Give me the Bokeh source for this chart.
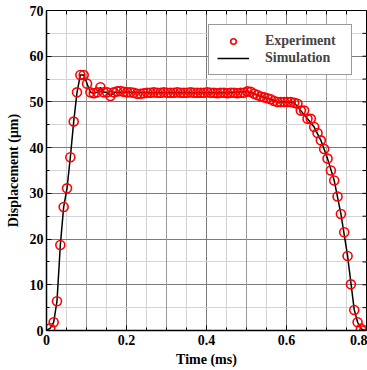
from bokeh.plotting import figure
from bokeh.models import FixedTicker, Grid, Legend, LegendItem, Range1d
from bokeh.embed import file_html
from bokeh.resources import INLINE

# ---- data ----
exp_time = [0.0095, 0.0179, 0.0262, 0.0346, 0.0429, 0.0513, 0.0596, 0.0680, 0.0763, 0.0847,
            0.0930, 0.1014, 0.1097, 0.1181, 0.1264, 0.1348, 0.1431, 0.1515, 0.1598, 0.1682,
            0.1765, 0.1849, 0.1932, 0.2016, 0.2099, 0.2183, 0.2266, 0.2350, 0.2433, 0.2517,
            0.2600, 0.2684, 0.2767, 0.2851, 0.2934, 0.3018, 0.3101, 0.3185, 0.3268, 0.3352,
            0.3435, 0.3519, 0.3602, 0.3686, 0.3769, 0.3853, 0.3936, 0.4020, 0.4103, 0.4187,
            0.4270, 0.4354, 0.4437, 0.4521, 0.4604, 0.4688, 0.4771, 0.4855, 0.4938, 0.5022,
            0.5105, 0.5189, 0.5272, 0.5356, 0.5439, 0.5523, 0.5606, 0.5690, 0.5773, 0.5857,
            0.5940, 0.6024, 0.6107, 0.6191, 0.6274, 0.6358, 0.6441, 0.6525, 0.6608, 0.6692,
            0.6775, 0.6859, 0.6942, 0.7026, 0.7109, 0.7193, 0.7276, 0.7360, 0.7443, 0.7527,
            0.7610, 0.7694, 0.7777, 0.7861, 0.7944]
exp_disp = [0.5, 1.8, 6.4, 18.7, 27.0, 31.1, 37.9, 45.7, 52.1, 55.9,
            55.9, 54.0, 52.1, 51.9, 52.1, 53.2, 52.1, 52.1, 51.3, 52.1,
            52.3, 52.4, 52.2, 52.1, 52.1, 52.0, 51.8, 51.8, 51.9, 52.0,
            52.0, 52.1, 52.0, 52.0, 52.1, 52.0, 52.0, 52.0, 52.1, 52.0,
            52.0, 52.0, 52.1, 52.0, 52.0, 52.0, 52.0, 52.1, 52.0, 52.0,
            51.9, 52.0, 52.0, 51.9, 52.0, 52.0, 51.9, 52.0, 52.0, 52.3,
            52.2, 51.8, 51.5, 51.2, 51.0, 50.8, 50.6, 50.2, 50.0, 50.0,
            50.0, 50.0, 50.0, 49.8, 49.6, 48.1, 48.1, 46.3, 46.3, 44.5,
            43.2, 41.6, 39.7, 37.6, 35.0, 32.8, 29.3, 25.5, 21.5, 16.3,
            10.1, 4.5, 1.8, 0.4, 0.0]

sim_time = [0.0, 0.0095, 0.0179, 0.0262, 0.0346, 0.0429, 0.0513, 0.0596, 0.0680, 0.0763,
            0.0847, 0.0930, 0.1014, 0.1097, 0.1181, 0.1264, 0.1348, 0.1431, 0.1515, 0.1598,
            0.1682, 0.20, 0.25, 0.30, 0.35, 0.40, 0.45, 0.5022, 0.5189, 0.5356, 0.5523,
            0.5773, 0.6024, 0.6191, 0.6358, 0.6525, 0.6692, 0.6859, 0.7026, 0.7193, 0.7360,
            0.7527, 0.7694, 0.7777, 0.7861, 0.7944, 0.80]
sim_disp = [0.0, 0.5, 1.8, 6.4, 18.7, 27.0, 31.1, 37.9, 45.7, 52.1,
            55.9, 55.9, 54.0, 52.1, 51.9, 52.1, 53.2, 52.1, 52.1, 51.3,
            52.1, 52.1, 52.0, 52.0, 52.0, 52.0, 52.0, 52.3, 51.8, 51.2,
            50.8, 50.0, 50.0, 49.8, 48.1, 46.3, 44.5, 41.6, 37.6, 32.8,
            25.5, 16.3, 4.5, 1.8, 0.4, 0.0, 0.0]

x_ticks = [0.0, 0.2, 0.4, 0.6, 0.8]
x_mid_ticks = [0.1, 0.3, 0.5, 0.7]
x_minor = [0.05, 0.1, 0.15, 0.25, 0.3, 0.35, 0.45, 0.5, 0.55, 0.65, 0.7, 0.75]
y_ticks = [0, 10, 20, 30, 40, 50, 60, 70]
y_minor = [5, 15, 25, 35, 45, 55, 65]

FONT = "Liberation Serif"
X0, X1, Y0, Y1 = 0.0, 0.8, 0.0, 70.0
FRAME_W, FRAME_H = 320, 320

p = figure(width=367, height=370, x_range=Range1d(X0, X1), y_range=Range1d(Y0, Y1),
           output_backend="svg", toolbar_location=None,
           min_border_left=46, min_border_right=1, min_border_top=10, min_border_bottom=40)
p.background_fill_color = "white"
p.outline_line_color = "black"
p.outline_line_width = 1

# grids
p.xgrid.ticker = FixedTicker(ticks=x_ticks, minor_ticks=x_minor)
p.ygrid.ticker = FixedTicker(ticks=y_ticks, minor_ticks=y_minor)
p.xgrid.grid_line_color = "#7a7a7a"
p.ygrid.grid_line_color = "#7a7a7a"
p.xgrid.minor_grid_line_color = "#d4d4d4"
p.ygrid.minor_grid_line_color = "#d4d4d4"
p.add_layout(Grid(dimension=0, ticker=FixedTicker(ticks=x_mid_ticks), grid_line_color="#9a9a9a"))

for ax in (p.xaxis[0], p.yaxis[0]):
    ax.axis_line_color = "black"
    ax.axis_line_width = 1.5
    ax.major_tick_in = 5
    ax.major_tick_out = 0
    ax.minor_tick_in = 3
    ax.minor_tick_out = 0
    ax.major_tick_line_color = "black"
    ax.minor_tick_line_color = "black"
    ax.major_label_text_font = FONT
    ax.major_label_text_font_style = "bold"
    ax.major_label_text_font_size = "14px"
    ax.major_label_text_color = "black"
    ax.axis_label_text_font = FONT
    ax.axis_label_text_font_style = "bold"
    ax.axis_label_text_font_size = "14px"
    ax.axis_label_text_color = "black"

p.xaxis.ticker = FixedTicker(ticks=x_ticks, minor_ticks=x_minor)
p.yaxis.ticker = FixedTicker(ticks=y_ticks, minor_ticks=y_minor)
p.xaxis.axis_label = "Time (ms)"
p.yaxis.axis_label = "Displacement (μm)"
p.xaxis.major_label_standoff = 4
p.xaxis.axis_label_standoff = 4
p.yaxis.major_label_standoff = 3
p.yaxis.axis_label_standoff = 6

# inward ticks on the top and right edges (mirror of the bottom/left ticks)
tick_px = 4
dx = (X1 - X0) * tick_px / FRAME_W
dy = (Y1 - Y0) * tick_px / FRAME_H
top_x = sorted(x_ticks + x_minor)
right_y = sorted(y_ticks + y_minor)
p.segment(x0=top_x, y0=[Y1] * len(top_x), x1=top_x, y1=[Y1 - dy] * len(top_x),
          line_color="black", line_width=1)
p.segment(x0=[X1] * len(right_y), y0=right_y, x1=[X1 - dx] * len(right_y), y1=right_y,
          line_color="black", line_width=1)

# data
ln = p.line(sim_time, sim_disp, line_color="black", line_width=1.5)
sc = p.scatter(exp_time, exp_disp, marker="circle", size=9, fill_color=None,
               line_color="#ff0000", line_width=1.6)

legend = Legend(items=[LegendItem(label="Experiment", renderers=[sc]),
                       LegendItem(label="Simulation", renderers=[ln])],
                location="top_right", margin=14, padding=8, spacing=1,
                glyph_width=32, glyph_height=14, label_height=14, label_standoff=16,
                label_width=78,
                label_text_font=FONT, label_text_font_style="bold", label_text_font_size="14px",
                border_line_color="#333333", border_line_width=1,
                background_fill_color="white", background_fill_alpha=1)
p.add_layout(legend)

open("out.html", "w").write(file_html(p, INLINE))
